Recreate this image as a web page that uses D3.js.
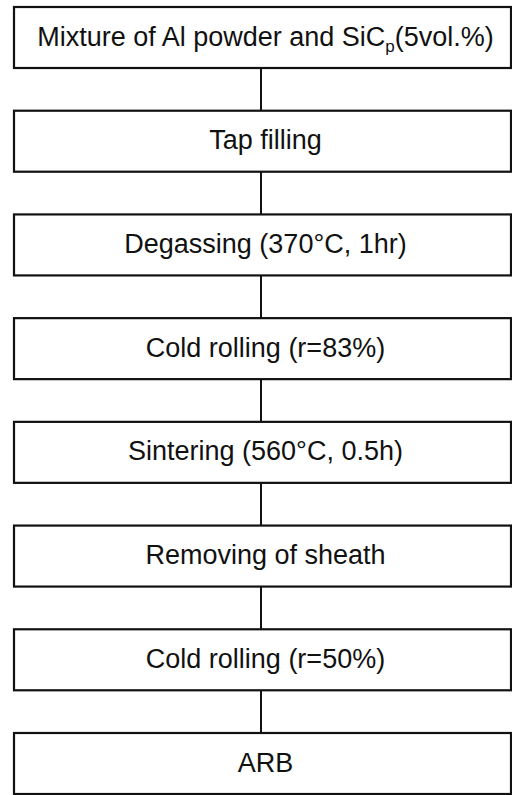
<!DOCTYPE html>
<html>
<head>
<meta charset="utf-8">
<title>process flow</title>
<script src="https://d3js.org/d3.v7.min.js"></script>
<style>
  body { margin: 0; background: #fff; }
  svg { display: block; background: #fff; }
  .box { fill: #fff; stroke: #111; stroke-width: 2.2; }
  .link { stroke: #111; stroke-width: 2; }
  text { font-family: "Liberation Sans", Arial, sans-serif; font-size: 27px; fill: #111; }
</style>
</head>
<body>
<svg width="512" height="795"></svg>
<script>
// process steps, top to bottom ("_p" marks a subscript)
var steps = [
  "Mixture of Al powder and SiC_p(5vol.%)",
  "Tap filling",
  "Degassing (370\u00b0C, 1hr)",
  "Cold rolling (r=83%)",
  "Sintering (560\u00b0C, 0.5h)",
  "Removing of sheath",
  "Cold rolling (r=50%)",
  "ARB"
];

var W = 512, H = 795;
var boxL = 14, boxR = 511, boxH = 61;
var cx = 261;

var svg = d3.select("svg");

// box tops
var y = d3.scalePoint().domain(d3.range(steps.length)).range([7, 733]);

// connectors between consecutive boxes
svg.selectAll("line.link")
  .data(d3.range(steps.length - 1))
  .enter().append("line")
  .attr("class", "link")
  .attr("x1", cx).attr("x2", cx)
  .attr("y1", function(i){ return y(i) + boxH; })
  .attr("y2", function(i){ return y(i + 1); });

var g = svg.selectAll("g.step")
  .data(steps)
  .enter().append("g")
  .attr("class", "step")
  .attr("transform", function(d, i){ return "translate(0," + y(i) + ")"; });

g.append("rect")
  .attr("class", "box")
  .attr("x", boxL).attr("y", 0)
  .attr("width", boxR - boxL).attr("height", boxH);

var t = g.append("text")
  .attr("x", (boxL + boxR) / 2 + 3)
  .attr("y", boxH / 2 + 8)
  .attr("text-anchor", "middle");

t.each(function(d){
  var el = d3.select(this);
  var parts = d.split(/_(\w)/);
  parts.forEach(function(p, k){
    if (!p) return;
    if (k % 2 === 1) {
      el.append("tspan").attr("dy", 6).style("font-size", "17px").text(p);
    } else {
      el.append("tspan").attr("dy", k > 0 ? -6 : 0).text(p);
    }
  });
});
</script>
</body>
</html>
